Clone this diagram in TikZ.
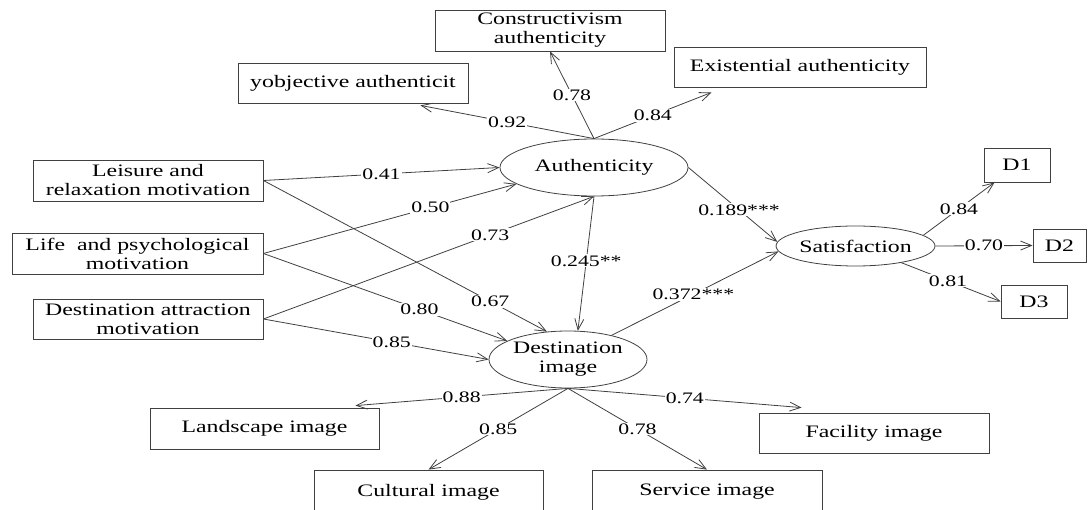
\documentclass[tikz,border=0pt]{standalone}
\usepackage{fontspec}
\setmainfont{Liberation Serif}[FakeStretch=1.36]
\usetikzlibrary{arrows.meta,shapes.geometric}
\begin{document}
\begin{tikzpicture}[x=1pt,y=-1pt,
  box/.style={draw=black!75, line width=0.8pt, inner sep=0pt, align=center, font=\fontsize{17.5}{19}\selectfont},
  lat/.style={draw=black!75, line width=0.8pt, ellipse, inner sep=0pt, align=center, font=\fontsize{17.5}{19}\selectfont},
  conn/.style={draw=black!75, line width=0.8pt, -{Straight Barb[length=11pt,width=9pt]}},
  lab/.style={fill=white, inner sep=1pt, font=\fontsize{16}{18}\selectfont, text=black}]
\useasboundingbox (0,0) rectangle (1088,510);
\clip (0,0) rectangle (1088,510);
% indicator boxes
\node[box, minimum width=230pt, minimum height=41pt] (cons) at (550,30.5) {Constructivism\\authenticity};
\node[box, minimum width=230pt, minimum height=40pt] (yobj) at (353,83) {yobjective authenticit};
\node[box, minimum width=252pt, minimum height=40pt] (exist) at (800,67) {Existential authenticity};
\node[box, minimum width=230pt, minimum height=41pt] (leis) at (148,180.5) {Leisure and\\relaxation motivation};
\node[box, minimum width=251pt, minimum height=41pt] (life) at (137.5,253.5) {Life~ and psychological\\motivation};
\node[box, minimum width=230pt, minimum height=40pt] (dattr) at (148,319) {Destination attraction\\motivation};
\node[box, minimum width=229pt, minimum height=41pt] (land) at (264.5,428.5) {Landscape image};
\node[box, minimum width=229pt, minimum height=44pt] (cult) at (428.5,492) {Cultural image};
\node[box, minimum width=230pt, minimum height=44pt] (serv) at (707,492) {Service image};
\node[box, minimum width=230pt, minimum height=40pt] (fac) at (874,433) {Facility image};
\node[box, minimum width=66pt, minimum height=34pt] (d1) at (1017,165) {D1};
\node[box, minimum width=53pt, minimum height=33pt] (d2) at (1059.5,245.5) {D2};
\node[box, minimum width=66pt, minimum height=33pt] (d3) at (1034,301.5) {D3};
% latent variables
\node[lat, minimum width=188pt, minimum height=57pt] (auth) at (594,167.5) {Authenticity};
\node[lat, minimum width=158pt, minimum height=57pt] (dimg) at (568,359.5) {Destination\\image};
\node[lat, minimum width=157pt, minimum height=40pt] (sat) at (855.5,246) {Satisfaction};
% authenticity indicators
\draw[conn] (auth.90) -- node[lab]{0.92} ([xshift=-48pt,yshift=-2pt]yobj.south east);
\draw[conn] (auth.90) -- node[lab]{0.78} (cons.south);
\draw[conn] (auth.90) -- node[lab]{0.84} ([xshift=38pt,yshift=-5pt]exist.south west);
% motivations
\draw[conn] (leis.east) -- node[lab]{0.41} (auth.180);
\draw[conn] (leis.east) -- node[lab,pos=0.8]{0.67} (dimg.127);
\draw[conn] (life.east) -- node[lab,pos=0.66]{0.50} (auth.192);
\draw[conn] (life.east) -- node[lab,pos=0.64]{0.80} (dimg.163);
\draw[conn] (dattr.east) -- node[lab,pos=0.686]{0.73} (auth.270);
\draw[conn] (dattr.east) -- node[lab,pos=0.57]{0.85} (dimg.180);
% structural paths
\draw[conn] (auth.270) -- node[lab,pos=0.48]{0.245**} (dimg.71);
\draw[conn] (auth.0) -- node[lab,pos=0.57]{0.189***} (sat.177);
\draw[conn] (dimg.29) -- node[lab,pos=0.49]{0.372***} (sat.184);
% satisfaction indicators
\draw[conn] (sat.9) -- node[lab]{0.84} ([xshift=11pt]d1.south west);
\draw[conn] (sat.0) -- node[lab]{0.70} (d2.west);
\draw[conn] (sat.340) -- node[lab,pos=0.47]{0.81} (d3.west);
% destination image indicators
\draw[conn] (dimg.270) -- node[lab]{0.88} ([xshift=-24pt,yshift=2pt]land.north east);
\draw[conn] (dimg.270) -- node[lab]{0.85} (cult.north);
\draw[conn] (dimg.270) -- node[lab]{0.78} (serv.north);
\draw[conn] (dimg.270) -- node[lab]{0.74} ([xshift=43pt,yshift=5pt]fac.north west);
\end{tikzpicture}
\end{document}
